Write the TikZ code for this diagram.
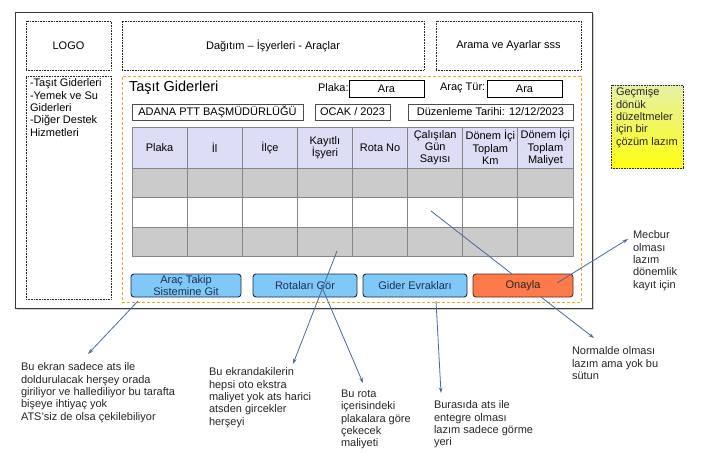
\documentclass[tikz,border=0pt]{standalone}
\usepackage{fontspec}
\setmainfont{Liberation Sans}
\usetikzlibrary{arrows.meta,calc}
\definecolor{framec}{HTML}{3A3A3A}
\definecolor{shadowc}{HTML}{CFCFCF}
\definecolor{orangedash}{HTML}{F5A623}
\definecolor{headc}{HTML}{DDDDF6}
\definecolor{rowc}{HTML}{CBCBCB}
\definecolor{cellb}{HTML}{858585}
\definecolor{btnblue}{HTML}{80C8F7}
\definecolor{btnborder}{HTML}{1E2B45}
\definecolor{btntext}{HTML}{1E2F55}
\definecolor{btnorange}{HTML}{FF7A4A}
\definecolor{orangeborder}{HTML}{5A2A18}
\definecolor{arrowc}{HTML}{4A6A9A}
\definecolor{notetop}{HTML}{E6F0A8}
\definecolor{notebot}{HTML}{FFFF10}
\begin{document}
\begin{tikzpicture}[x=1pt,y=-1pt,
  every node/.style={font=\fontsize{11}{12.3}\selectfont, inner sep=0pt, outer sep=0pt},
  dotbox/.style={draw=black!85, densely dotted, line width=0.6pt, anchor=north west, align=center},
  fieldbox/.style={draw=black, line width=0.7pt, anchor=north west, align=center},
  infobox/.style={draw=black!70, line width=0.6pt, anchor=north west, align=center},
  headcell/.style={draw=cellb, line width=0.9pt, fill=headc, anchor=north west, align=center,
     minimum width=55.125pt, minimum height=41pt},
  bodycell/.style={draw=cellb, line width=0.9pt, anchor=north west,
     minimum width=55.125pt, minimum height=29.5pt},
  btn/.style={draw=btnborder, line width=0.9pt, fill=btnblue, rounded corners=3pt, text=btntext,
     anchor=north west, align=center, minimum height=23pt},
  btnok/.style={draw=orangeborder, line width=0.9pt, fill=btnorange, rounded corners=3pt, text=black!85,
     anchor=north west, align=center, minimum height=23pt},
  note/.style={anchor=north west, align=left, text=black!85},
  callout/.style={draw=arrowc, line width=0.8pt, -{Stealth[length=5.5pt,width=3.6pt]}},
  plainline/.style={draw=arrowc, line width=0.8pt}
]
\useasboundingbox (0,0) rectangle (703,474);

% outer frame with shadow
\fill[shadowc] (17,14) rectangle (594,309.5);
\node[draw=framec, fill=white, line width=1pt, anchor=north west, minimum width=577pt, minimum height=296pt] (frame) at (15,12) {};

% top boxes
\node[dotbox, minimum width=85pt, minimum height=49pt] (logo) at (26,21) {LOGO};
\node[dotbox, minimum width=302pt, minimum height=49pt] (dist) at (122,21) {Dağıtım – İşyerleri - Araçlar};
\node[dotbox, minimum width=145pt, minimum height=49pt] (arama) at (436,21) {Arama ve Ayarlar sss};

% sidebar
\node[dotbox, minimum width=85pt, minimum height=223pt] (side) at (26,76) {};
\node[note, text=black] (sidetext) at (30,79) {-Taşıt Giderleri\\-Yemek ve Su\\Giderleri\\-Diğer Destek\\Hizmetleri};

% orange panel
\node[draw=orangedash, dashed, dash pattern=on 3pt off 2pt, line width=1pt, anchor=north west,
      minimum width=459pt, minimum height=226pt] (panel) at (122,76) {};

% title row
\node[anchor=west, font=\fontsize{14.5}{16}\selectfont] (title) at (129,88) {Taşıt Giderleri};
\node[anchor=west] (plakalbl) at (318,88) {Plaka:};
\node[fieldbox, minimum width=75pt, minimum height=17pt] (plakabox) at (349,80) {Ara};
\node[anchor=west] (turlbl) at (440,88) {Araç Tür:};
\node[fieldbox, minimum width=75pt, minimum height=17pt] (turbox) at (487,80) {Ara};

% info row
\node[infobox, minimum width=171pt, minimum height=16pt] (adana) at (132,104) {ADANA PTT BAŞMÜDÜRLÜĞÜ};
\node[infobox, minimum width=75pt, minimum height=16pt] (ocak) at (315,104) {OCAK / 2023};
\node[infobox, minimum width=165pt, minimum height=16pt] (tarih) at (408,104) {Düzenleme Tarihi: 12/12/2023};

% table header
\foreach \i/\t in {1/Plaka, 2/İl, 3/İlçe, 4/Kayıtlı\\İşyeri, 5/Rota No, 6/Çalışılan\\Gün\\Sayısı, 7/Dönem İçi\\Toplam\\Km, 8/Dönem İçi\\Toplam\\Maliyet}
  \node[headcell] (h\i) at ({132+(\i-1)*55.125},127) {\t};

% table body
\foreach \r/\c in {1/rowc, 2/white, 3/rowc}
  \foreach \i in {1,...,8}
    \node[bodycell, fill=\c] (r\r c\i) at ({132+(\i-1)*55.125},{168+(\r-1)*29.5}) {};

% buttons
\node[btn, minimum width=110pt] (b1) at (131,274) {Araç Takip\\Sistemine Git};
\node[btn, minimum width=104pt] (b2) at (253,274) {Rotaları Gör};
\node[btn, minimum width=104pt] (b3) at (363,274) {Gider Evrakları};
\node[btnok, minimum width=100pt] (b4) at (473,274) {Onayla};

% yellow note
\node[draw=black!85, densely dotted, line width=0.6pt, top color=notetop, bottom color=notebot,
      anchor=north west, minimum width=72pt, minimum height=83pt] (yellow) at (611,85) {};
\node[note] (yellowtext) at (616,88) {Geçmişe\\dönük\\düzeltmeler\\için bir\\çözüm lazım};

% annotation texts
\node[note] (tA) at (21,363) {Bu ekran sadece ats ile\\doldurulacak herşey orada\\giriliyor ve hallediliyor bu tarafta\\bişeye ihtiyaç yok\\ATS'siz de olsa çekilebiliyor};
\node[note] (tB) at (209,368) {Bu ekrandakilerin\\hepsi oto ekstra\\maliyet yok ats harici\\atsden gircekler\\herşeyi};
\node[note] (tC) at (341,390) {Bu rota\\içerisindeki\\plakalara göre\\çekecek\\maliyeti};
\node[note] (tD) at (434,401) {Burasıda ats ile\\entegre olması\\lazım sadece görme\\yeri};
\node[note] (tE) at (572,347) {Normalde olması\\lazım ama yok bu\\sütun};
\node[note] (tF) at (633,231) {Mecbur\\olması\\lazım\\dönemlik\\kayıt için};

% connector endpoints
\coordinate (a1s) at (138,301);  \coordinate (a1e) at (88,354);
\coordinate (a2s) at (337,251);  \coordinate (a2e) at (293,364);
\coordinate (a3s) at (321,285);  \coordinate (a3e) at (363,383);
\coordinate (a4s) at (436,301);  \coordinate (a4e) at (441,393);
\coordinate (a5s) at (431,211);  \coordinate (a5e) at (512,274);
\coordinate (a6s) at (557,283);  \coordinate (a6e) at (628,239);
\coordinate (a7s) at (541,297);  \coordinate (a7e) at (594,338);

\draw[callout] (a1s) -- (a1e);
\draw[callout] (a2s) -- (a2e);
\draw[callout] (a3s) -- (a3e);
\draw[callout] (a4s) -- (a4e);
\draw[plainline] (a5s) -- (a5e);
\draw[callout] (a6s) -- (a6e);
\draw[callout] (a7s) -- (a7e);
\end{tikzpicture}
\end{document}
